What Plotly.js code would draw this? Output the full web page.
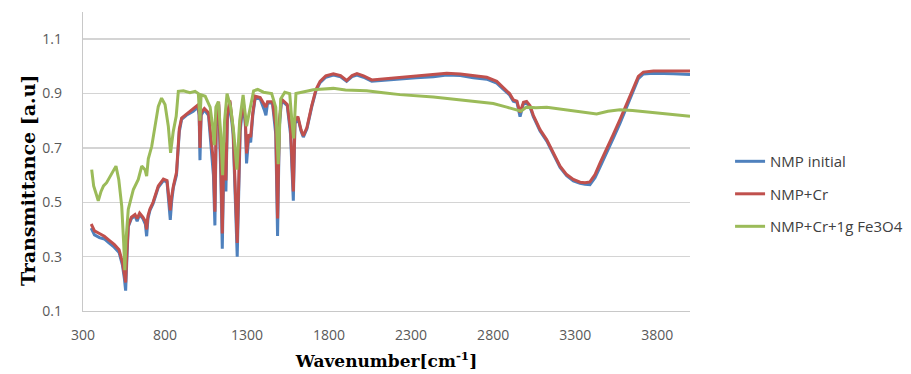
<!DOCTYPE html>
<html>
<head>
<meta charset="utf-8">
<script src="https://cdn.plot.ly/plotly-3.0.1.min.js"></script>
<style>html,body{margin:0;padding:0;background:#fff;}#chart{width:911px;height:374px;}</style>
</head>
<body>
<div id="chart"></div>
<script>
// Wavenumber (cm-1) shared by "NMP initial" and "NMP+Cr"
const wavenumber = [
  350,370,400,430,460,490,520,540,552,560,
  568,576,595,617,630,645,665,680,688,696,
  708,727,759,790,812,825,832,840,851,870,
  880,887,901,930,972,1000,1008,1013,1020,1040,
  1065,1080,1095,1104,1112,1127,1140,1149,1160,1171,
  1180,1195,1215,1240,1258,1276,1290,1297,1310,1322,
  1335,1350,1380,1405,1415,1425,1455,1475,1486,1497,
  1510,1545,1565,1582,1592,1610,1630,1643,1665,1694,
  1720,1745,1780,1826,1870,1907,1940,1970,2010,2060,
  2150,2232,2330,2436,2517,2600,2679,2761,2822,2863,
  2900,2923,2945,2964,2985,3004,3025,3045,3086,3127,
  3168,3208,3248,3289,3330,3360,3390,3421,3452,3492,
  3532,3573,3614,3655,3685,3716,3777,3900,4000
];
const nmpInitial = [
  .405,.38,.37,.365,.35,.335,.315,.27,.22,.175,
  .30,.41,.44,.45,.43,.455,.44,.42,.375,.44,
  .47,.495,.555,.58,.575,.50,.435,.50,.555,.60,
  .70,.76,.805,.82,.835,.85,.82,.655,.82,.84,
  .82,.72,.60,.415,.78,.86,.60,.329,.70,.54,
  .80,.87,.75,.30,.76,.87,.78,.643,.74,.72,
  .82,.885,.88,.84,.82,.865,.865,.75,.376,.78,
  .875,.855,.75,.506,.79,.81,.76,.74,.77,.85,
  .91,.94,.96,.968,.962,.945,.962,.968,.96,.945,
  .95,.953,.958,.962,.968,.966,.958,.953,.938,.915,
  .895,.872,.868,.815,.862,.866,.85,.815,.762,.725,
  .675,.628,.598,.579,.57,.566,.565,.59,.63,.68,
  .735,.79,.848,.91,.955,.972,.975,.973,.97
];
const nmpCr = [
  .42,.395,.385,.375,.36,.345,.325,.28,.235,.205,
  .32,.415,.445,.455,.44,.46,.445,.43,.40,.45,
  .475,.50,.56,.585,.58,.52,.47,.52,.56,.61,
  .71,.77,.81,.825,.845,.858,.83,.70,.83,.845,
  .83,.75,.65,.465,.80,.87,.65,.385,.72,.58,
  .82,.875,.77,.35,.78,.875,.80,.68,.75,.74,
  .83,.89,.885,.86,.85,.87,.87,.78,.44,.80,
  .88,.86,.77,.54,.80,.815,.765,.745,.775,.855,
  .915,.945,.965,.973,.966,.948,.966,.973,.965,.95,
  .955,.958,.963,.968,.975,.972,.965,.96,.945,.92,
  .90,.877,.872,.83,.868,.871,.855,.82,.767,.73,
  .68,.633,.602,.584,.574,.572,.575,.602,.645,.694,
  .749,.804,.859,.92,.963,.979,.983,.983,.983
];
// "NMP+Cr+1g Fe3O4"
const wavenumberFe = [
  353,365,378,393,410,425,444,470,501,518,
  536,548,555,562,576,607,637,658,678,688,
  698,719,739,759,779,800,820,834,850,868,
  881,912,952,983,1003,1013,1020,1045,1075,1090,
  1100,1110,1125,1140,1151,1163,1178,1200,1220,1238,
  1255,1276,1297,1315,1340,1365,1400,1450,1475,1490,
  1505,1530,1560,1573,1584,1598,1640,1704,1745,1826,
  1900,2029,2130,2232,2436,2639,2801,2883,2944,2970,
  3004,3060,3127,3248,3370,3431,3500,3573,3650,3756,
  3880,4000
];
const nmpCrFe = [
  .62,.56,.535,.505,.54,.56,.572,.60,.633,.584,
  .486,.35,.25,.36,.474,.547,.584,.633,.62,.596,
  .66,.706,.78,.853,.883,.86,.78,.682,.76,.816,
  .908,.91,.903,.908,.90,.80,.895,.89,.85,.78,
  .71,.85,.87,.75,.60,.80,.90,.85,.75,.62,
  .80,.895,.78,.84,.91,.915,.905,.90,.85,.64,
  .88,.905,.90,.80,.735,.90,.905,.914,.916,.919,
  .913,.91,.903,.896,.887,.875,.863,.85,.838,.835,
  .85,.848,.85,.84,.831,.825,.835,.84,.838,.831,
  .823,.816
];
const seriesNames = ["NMP initial", "NMP+Cr", "NMP+Cr+1g Fe3O4"];
const xTicks = [300, 800, 1300, 1800, 2300, 2800, 3300, 3800];
const yTicks = [0.1, 0.3, 0.5, 0.7, 0.9, 1.1];
const xTitle = "Wavenumber[cm<sup>-1</sup>]";
const yTitle = "Transmittance [a.u]";

const colors = ["#4F81BD", "#C0504D", "#9BBB59"];
const traces = [
  {x: wavenumber, y: nmpInitial, name: seriesNames[0], legendgroup: "a"},
  {x: wavenumber, y: nmpCr, name: seriesNames[1], legendgroup: "b"},
  {x: wavenumberFe, y: nmpCrFe, name: seriesNames[2], legendgroup: "c"}
].map((t, i) => Object.assign(t, {
  type: "scatter", mode: "lines",
  line: {color: colors[i], width: 3, shape: "linear"}
}));

const tickFont = {family: "Open Sans, Liberation Sans, sans-serif", size: 14, color: "#595959"};
const titleFont = {family: "DejaVu Serif, serif", color: "#000", weight: "bold"};

const layout = {
  width: 911, height: 374,
  margin: {l: 83, r: 221, t: 12, b: 63, pad: 0, autoexpand: false},
  paper_bgcolor: "#fff", plot_bgcolor: "#fff",
  showlegend: true,
  legend: {
    x: 1.066, xanchor: "left", y: 0.555, yanchor: "top",
    font: {family: "Open Sans, Liberation Sans, sans-serif", size: 15, color: "#404040"},
    tracegroupgap: 10, bgcolor: "rgba(0,0,0,0)"
  },
  xaxis: {
    range: [300, 4000], tickmode: "array", tickvals: xTicks, ticktext: xTicks.map(String),
    showgrid: false, zeroline: false, showline: true, linecolor: "#c8c8c8", linewidth: 1.3,
    ticks: "", tickfont: tickFont, ticklabelstandoff: 11,
    title: {text: xTitle, font: Object.assign({}, titleFont, {size: 17}), standoff: 12}
  },
  yaxis: {
    range: [0.1, 1.2], tickmode: "array", tickvals: yTicks, ticktext: yTicks.map(v => v.toFixed(1)),
    showgrid: true, gridcolor: "#d4d4d4", gridwidth: 1.4, zeroline: false,
    showline: true, linecolor: "#c8c8c8", linewidth: 1.3,
    ticks: "", tickfont: tickFont, ticklabelstandoff: 17
  },
  annotations: [{
    text: yTitle, textangle: -90, showarrow: false,
    xref: "paper", yref: "paper", x: -0.0906, y: 0.438, xanchor: "center", yanchor: "middle",
    font: Object.assign({}, titleFont, {size: 19})
  }]
};

Plotly.newPlot("chart", traces, layout, {displayModeBar: false, staticPlot: true});
</script>
</body>
</html>
